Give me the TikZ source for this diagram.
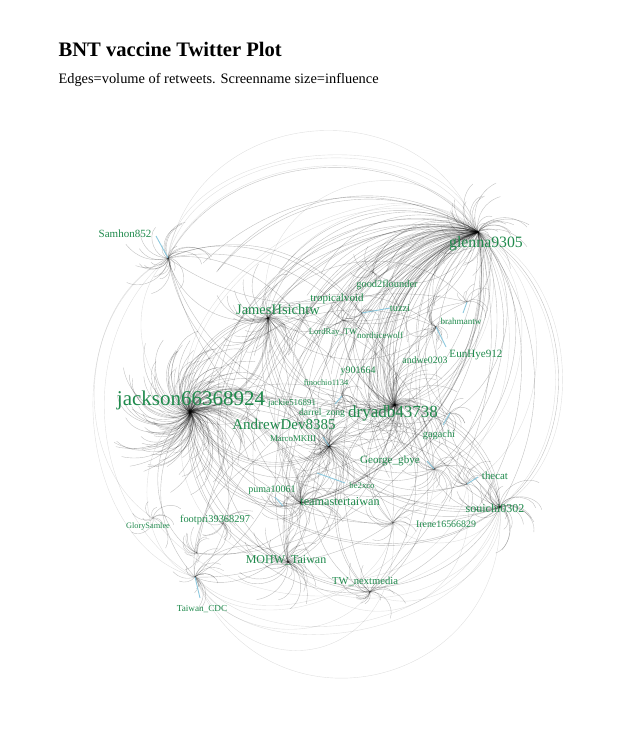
\documentclass[tikz,border=0pt]{standalone}
\usepackage{fontspec}
\setmainfont{Liberation Serif}
\usetikzlibrary{calc}
\definecolor{twgreen}{HTML}{1F8A4C}
\definecolor{twblue}{HTML}{8CC8DE}
\newcommand{\fsz}[1]{\fontsize{#1}{#1}\selectfont}

\begin{document}
\begin{tikzpicture}[x=1pt,y=-1pt,
    edge/.style={black,draw opacity=0.24,line width=0.4pt},
    faint/.style={black,draw opacity=0.12,line width=0.4pt},
    lead/.style={twblue,line width=0.9pt},
    scrn/.style={text=twgreen,inner sep=0pt}]
  \useasboundingbox (0,0) rectangle (640,741);
  % title
  \node[anchor=base west,font={\fsz{20.6}\bfseries}] (title) at (55,57) {BNT vaccine Twitter Plot};
  \node[anchor=base west,font=\fsz{14.4}] (subtitle) at (55,84) {Edges=volume of retweets. Screenname size=influence};
  % hubs
  \coordinate (jk) at (190,412);
  \coordinate (gl) at (478,232);
  \coordinate (dr) at (395,405);
  \coordinate (mk) at (329,446);
  \coordinate (jh) at (268,318);
  \coordinate (sh) at (168,258);
  \coordinate (eh) at (436,327);
  \coordinate (tm) at (301,503);
  \coordinate (mo) at (288,562);
  \coordinate (so) at (500,507);
  \coordinate (tc) at (467,484);
  \coordinate (gg) at (434,469);
  \coordinate (ir) at (393,523);
  \coordinate (tw) at (370,592);
  \coordinate (cdc) at (195,577);
  \coordinate (cd2) at (197,553);
  \coordinate (gs) at (153,518);
  \coordinate (fp) at (223,523);
  \coordinate (pu) at (283,506);
  \coordinate (ga) at (450,413);
  \coordinate (tz) at (362,313);
  \coordinate (lr) at (343,320);
  \coordinate (g2) at (373,272);
  \coordinate (br) at (467,302);
  \coordinate (fi) at (342,396);
  \coordinate (jc) at (262,402);
  \coordinate (bx) at (317,473);
  \pgfmathsetseed{42}
  \def\hubs{jk/4,gl/4,dr/4,mk/2.5,jh/2.5,tm/2,mo/2,so/2,eh/1.5,sh/1.5,gg/1.5,tc/1.2,ir/1.2,tw/1.2,cdc/1.2,cd2/1,ga/1.2,tz/1.5,lr/1.2,g2/1,br/1,fi/1,jc/0.8,gs/0.8,fp/0.8,pu/0.8,bx/0.8}
  % retweet arcs between hubs
  \foreach \a/\wa in \hubs {
    \foreach \b/\wb in \hubs {
      \ifx\a\b\else
        \pgfmathtruncatemacro\k{0.5*\wa*\wb*rnd}
        \ifnum\k>0
          \foreach \i in {1,...,\k} {
            \pgfmathsetmacro\bb{30+30*rnd}
            \draw[edge] (\a) to[bend left=\bb] (\b);
          }
        \fi
      \fi
    }
  }
  % single retweeters round each hub
  \foreach \h/\n/\r in {jk/160/75,gl/40/45,dr/70/60,mk/40/40,jh/40/50,sh/25/45,tm/30/45,mo/30/45,
      so/25/40,tc/12/25,gg/15/30,ir/10/25,tw/15/30,cdc/14/30,cd2/10/25,gs/10/25,fp/12/25,
      eh/15/30,ga/8/20,tz/10/25,lr/10/25,g2/8/20,br/6/18,fi/8/20,pu/8/20} {
    \foreach \i in {1,...,\n} {
      \pgfmathsetmacro\ang{360*rnd}
      \pgfmathsetmacro\len{8+\r*rnd}
      \pgfmathsetmacro\bb{30+45*rnd}
      \coordinate (\h-\i) at ($(\h)+(\ang:\len)$);
      \draw[edge] (\h) to[bend left=\bb] (\h-\i);
    }
  }
  % glenna9305 spray
  \foreach \i in {1,...,60} {
    \pgfmathsetmacro\px{200+260*rnd}
    \pgfmathsetmacro\py{260+230*rnd}
    \pgfmathsetmacro\bb{30+30*rnd}
    \coordinate (gs-\i) at (\px,\py);
    \draw[edge] (gs-\i) to[bend left=\bb] (gl);
  }
  % outer arcs
  \foreach \a/\b/\bb in {sh/gl/60,jk/gl/75,jk/gl/68,jh/gl/70,sh/gl/72,gl/so/55,gl/so/65,gl/tc/60,
      gl/ir/50,so/cdc/75,so/cdc/62,ir/cdc/70,so/mo/70,tw/cdc/60,cdc/sh/55,cdc/jk/70,gs/sh/60,
      jk/sh/55,gl/gg/65,so/tw/65,tc/mo/60,dr/gl/70,gl/dr/60,so/gs/55,mo/jk/60,gl/mk/60,
      tz/gl/65,g2/gl/70,so/ir/60,gg/cdc/70,sh/gl/80,cdc/sh/70} {
    \draw[faint] (\a) to[bend left=\bb] (\b);
  }
  \foreach \a/\b/\bb/\lo in {so/cdc/80/1.5,ir/cdc/80/1.7,tc/mo/75/1.6,sh/gl/75/1.3,jh/gl/80/1.4} {
    \draw[faint] (\a) to[bend left=\bb,looseness=\lo] (\b);
  }
  % leader lines
  \coordinate (sh-tip) at (156,236);
  \coordinate (tz-tip) at (390,308);
  \coordinate (br-tip) at (463,313);
  \coordinate (eh-tip) at (446,347);
  \coordinate (fi-tip) at (335,404);
  \coordinate (ga-tip) at (443,425);
  \coordinate (gg-tip) at (427,461);
  \coordinate (tc-tip) at (478,477);
  \coordinate (mk-tip) at (323,437);
  \coordinate (bx-tip) at (345,483);
  \coordinate (pu-tip) at (275,497);
  \coordinate (cdc-tip) at (200,598);
  \foreach \h in {sh,tz,br,eh,fi,ga,gg,tc,mk,bx,pu,cdc}
    \draw[lead] (\h-tip) -- (\h);
  % screennames
  \node[scrn,font={\fsz{21}}] (n-jk) at (191,400) {jackson66368924};
  \node[scrn,font={\fsz{15.8}}] (n-gl) at (486,244) {glenna9305};
  \node[scrn,font={\fsz{14.5}}] (n-jh) at (278,310) {JamesHsichtw};
  \node[scrn,font={\fsz{17}}] (n-dr) at (393,413) {dryadb43738};
  \node[scrn,font={\fsz{15}}] (n-ad) at (284,424) {AndrewDev8385};
  \node[scrn,font={\fsz{11}}] (n-sh) at (125,234) {Samhon852};
  \node[scrn,font={\fsz{10.4}}] (n-g2) at (387,285) {good2flounder};
  \node[scrn,font={\fsz{11}}] (n-tv) at (337,299) {tropicalvoid};
  \node[scrn,font={\fsz{10.3}}] (n-tz) at (400,308) {tuzzi};
  \node[scrn,font={\fsz{8.6}}] (n-lr) at (333,332) {LordRay\_TW};
  \node[scrn,font={\fsz{9}}] (n-nw) at (380,335) {northicewolf};
  \node[scrn,font={\fsz{9.1}}] (n-br) at (461,321) {brahmantw};
  \node[scrn,font={\fsz{11.1}}] (n-eh) at (476,355) {EunHye912};
  \node[scrn,font={\fsz{9.8}}] (n-an) at (425,360) {andwe0203};
  \node[scrn,font={\fsz{10}}] (n-y9) at (358,371) {y901664};
  \node[scrn,font={\fsz{8.4}}] (n-fi) at (326,383) {finochio1134};
  \node[scrn,font={\fsz{8.9}}] (n-jc) at (292,403) {jackie516891};
  \node[scrn,font={\fsz{9.6}}] (n-dz) at (322,413) {darrel\_zong};
  \node[scrn,font={\fsz{8.8}}] (n-mk) at (293,439) {MarcoMKIII};
  \node[scrn,font={\fsz{10.3}}] (n-ga) at (439,435) {gagachi};
  \node[scrn,font={\fsz{11.1}}] (n-gg) at (390,461) {George\_gbye};
  \node[scrn,font={\fsz{10.9}}] (n-tc) at (495,476) {thecat};
  \node[scrn,font={\fsz{8.7}}] (n-bx) at (362,486) {be2xco};
  \node[scrn,font={\fsz{10}}] (n-pu) at (272,490) {puma10061};
  \node[scrn,font={\fsz{12.2}}] (n-tm) at (340,502) {teamastertaiwan};
  \node[scrn,font={\fsz{12}}] (n-so) at (495,508) {souichi0302};
  \node[scrn,font={\fsz{10.4}}] (n-fp) at (215,520) {footpri39368297};
  \node[scrn,font={\fsz{8.3}}] (n-gs) at (148,527) {GlorySamlee};
  \node[scrn,font={\fsz{9.9}}] (n-ir) at (446,524) {Irene16566829};
  \node[scrn,font={\fsz{12}}] (n-mo) at (286,560) {MOHW\_Taiwan};
  \node[scrn,font={\fsz{10.6}}] (n-tw) at (365,581) {TW\_nextmedia};
  \node[scrn,font={\fsz{9.2}}] (n-cdc) at (202,609) {Taiwan\_CDC};
\end{tikzpicture}
\end{document}
